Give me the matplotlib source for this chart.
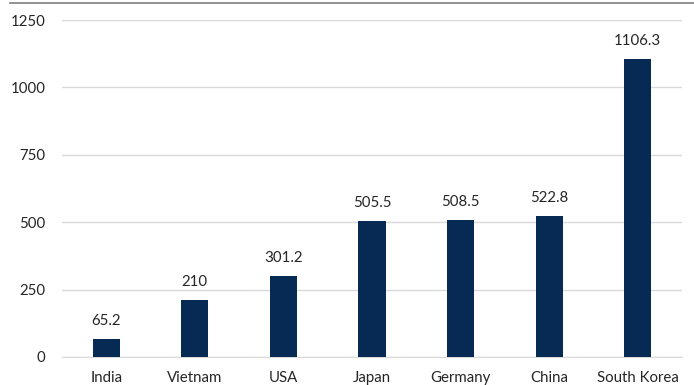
import matplotlib
matplotlib.use("Agg")
import matplotlib.pyplot as plt
from matplotlib.lines import Line2D

countries = ["India", "Vietnam", "USA", "Japan", "Germany", "China", "South Korea"]
values = [65.2, 210, 301.2, 505.5, 508.5, 522.8, 1106.3]
value_labels = ["65.2", "210", "301.2", "505.5", "508.5", "522.8", "1106.3"]
yticks = [0, 250, 500, 750, 1000, 1250]

plt.rcParams["font.family"] = ["Lato", "DejaVu Sans"]

fig = plt.figure(figsize=(6.94, 3.85), dpi=100)
ax = fig.add_axes([62 / 694, 1 - 357 / 385, 620 / 694, 337 / 385])

x = range(len(countries))
bars = ax.bar(x, values, width=0.305, color="#072a55", zorder=3)

for rect, lab in zip(bars, value_labels):
    ax.annotate(lab, (rect.get_x() + rect.get_width() / 2, rect.get_height()),
                xytext=(0, 8), textcoords="offset points", ha="center", va="bottom",
                fontsize=10.8, color="#262626")

ax.set_xlim(-0.5, len(countries) - 0.5)
ax.set_ylim(0, 1250)
ax.set_yticks(yticks)
ax.set_yticklabels([str(t) for t in yticks])
ax.set_xticks(list(x))
ax.set_xticklabels(countries)

ax.grid(axis="y", color="#d9d9d9", linewidth=1, zorder=0)
ax.tick_params(axis="both", length=0, labelsize=10.8, labelcolor="#262626")
ax.tick_params(axis="y", pad=12)
ax.tick_params(axis="x", pad=10)
for side in ["top", "right", "left"]:
    ax.spines[side].set_visible(False)
ax.spines["bottom"].set_color("#d9d9d9")

# thin frame line along the top edge
fig.add_artist(Line2D([10 / 694, 1], [1 - 2.5 / 385, 1 - 2.5 / 385],
                      transform=fig.transFigure, color="#7f7f7f", linewidth=1.2))

fig.savefig("out.png", dpi=100)
